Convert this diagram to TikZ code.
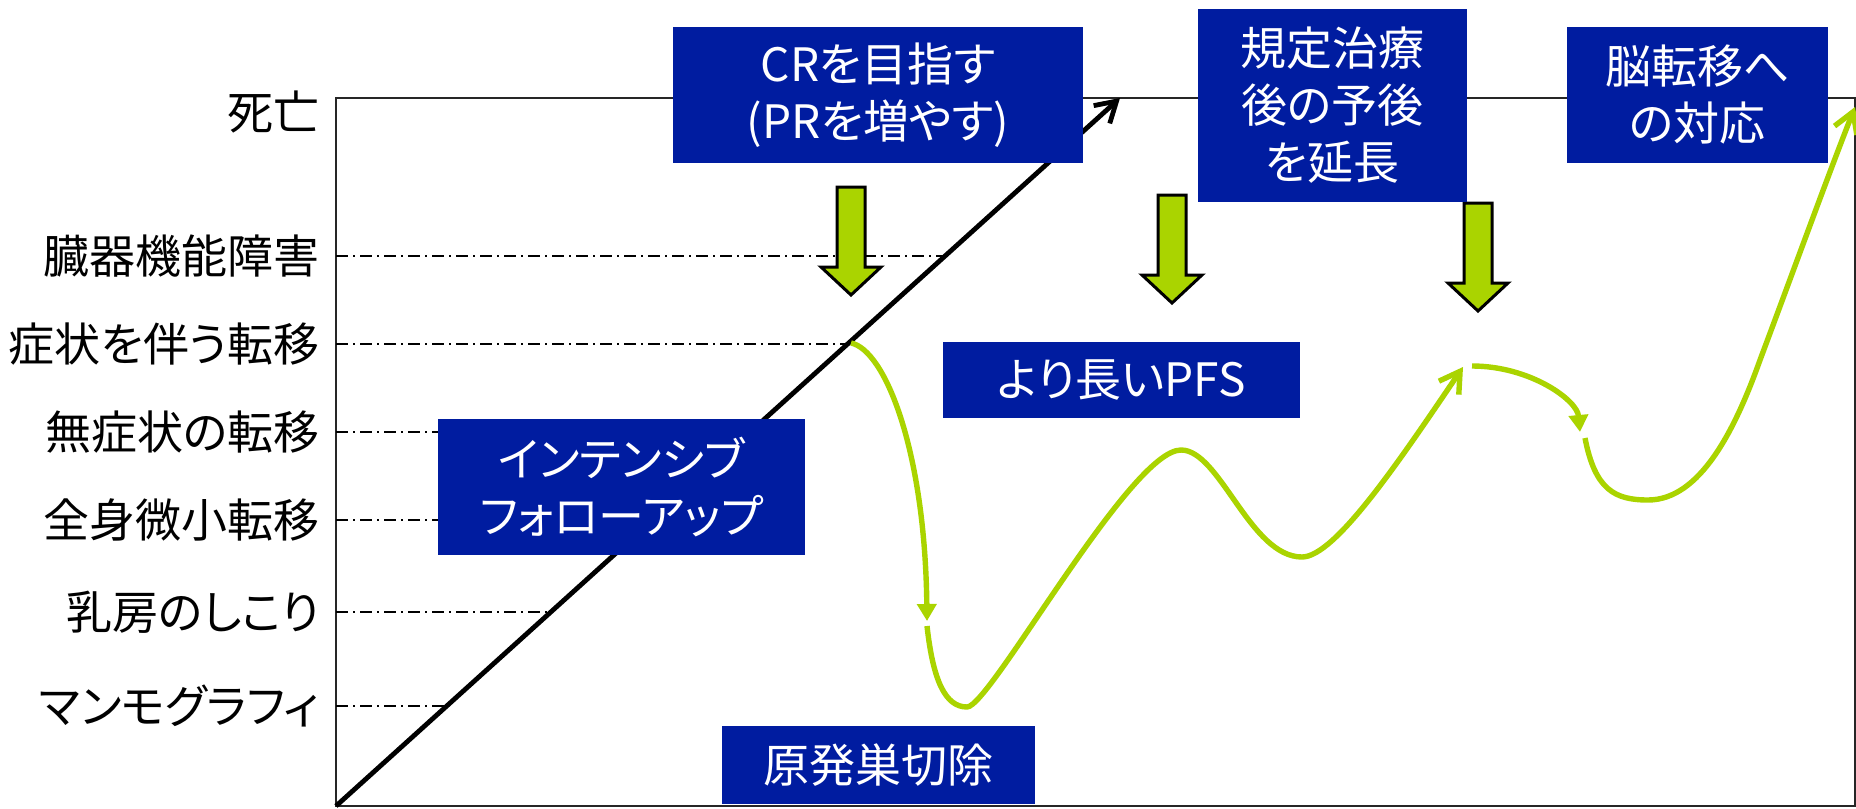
\documentclass[tikz,border=0pt]{standalone}
\usepackage{fontspec}
\setmainfont{Noto Sans CJK JP}[RawFeature={+palt}]
\usetikzlibrary{arrows.meta}
\definecolor{boxblue}{RGB}{0,28,160}
\definecolor{lime}{RGB}{170,212,0}
\tikzset{
  bluebox/.style={fill=boxblue, text=white, inner sep=0pt, align=center,
    font=\fontsize{23pt}{28.5pt}\selectfont},
  lab/.style={anchor=east, inner sep=0pt, font=\fontsize{23pt}{28pt}\selectfont},
  guide/.style={line width=0.6pt, dash pattern=on 6pt off 2.5pt on 1pt off 2.5pt},
  framebox/.style={line width=1pt, draw=black!85},
  diag/.style={line width=2.4pt, -{Straight Barb[length=10pt,width=12pt]}},
  gline/.style={line width=2.7pt, draw=lime},
  barb/.style={-{Straight Barb[length=10pt,width=12pt]}},
  tri/.style={-{Triangle[length=8.5pt,width=9.5pt]}},
  blockarrow/.pic={\filldraw[fill=lime, draw=black, line width=1.5pt, line join=miter]
    (-14,0) -- (14,0) -- (14,80) -- (30,80) -- (0,108) -- (-30,80) -- (-14,80) -- cycle;}
}
\begin{document}
\begin{tikzpicture}[x=0.5pt,y=-0.5pt]
\useasboundingbox (0,0) rectangle (1856,808);
% frame
\draw[framebox] (336,98) rectangle (1855,806);
% guide lines
\draw[guide] (336,256) -- (945,256);
\draw[guide] (336,344) -- (848,344);
\draw[guide] (336,432) -- (750,432);
\draw[guide] (336,520) -- (653,520);
\draw[guide] (336,612) -- (551,612);
\draw[guide] (336,706) -- (447,706);
% diagonal
\coordinate (o) at (336,806);
\coordinate (dtip) at (1120,98);
\draw[diag] (o) -- (dtip);
% green course
\coordinate (g0) at (851,343);
\coordinate (g1) at (927,621);
\coordinate (g2) at (927,626);
\coordinate (g3) at (1463,367);
\coordinate (g4) at (1472,366);
\coordinate (g5) at (1580,432);
\coordinate (g6) at (1585,438);
\coordinate (g7) at (1855,107);
\draw[gline, tri] (g0) .. controls (885,350) and (925,450) .. (g1);
\draw[gline, barb] (g2) .. controls (933,680) and (945,707) .. (967,707)
  .. controls (990,707) and (1130,450) .. (1181,450)
  .. controls (1220,450) and (1250,557) .. (1302,557)
  .. controls (1335,557) and (1400,460) .. (g3);
\draw[gline, tri] (g4) .. controls (1530,366) and (1577,400) .. (g5);
\draw[gline, barb] (g6) .. controls (1595,490) and (1615,500) .. (1648,500)
  .. controls (1700,500) and (1735,430) .. (1760,360)
  .. controls (1790,280) and (1830,170) .. (g7);
% block arrows
\pic at (851,187) {blockarrow};
\pic at (1172,195) {blockarrow};
\pic at (1478,203) {blockarrow};
% boxes
\node[bluebox, minimum width=205pt, minimum height=68pt] (cr) at (878,95) {CRを目指す\\(PRを増やす)};
\node[bluebox, minimum width=134.5pt, minimum height=96.5pt] (kitei) at (1332.5,105.5) {規定治療\\後の予後\\を延長};
\node[bluebox, minimum width=130.5pt, minimum height=68pt] (nou) at (1697.5,95) {脳転移へ\\の対応};
\node[bluebox, minimum width=178.5pt, minimum height=38pt] (pfs) at (1121.5,380) {より長いPFS};
\node[bluebox, minimum width=183.5pt, minimum height=68pt] (fu) at (621.5,487) {インテンシブ\\フォローアップ};
\node[bluebox, minimum width=156.5pt, minimum height=39pt] (gen) at (878.5,765) {原発巣切除};
% labels
\node[lab] (l0) at (320,112) {死亡};
\node[lab] (l1) at (320,256) {臓器機能障害};
\node[lab] (l2) at (320,344) {症状を伴う転移};
\node[lab] (l3) at (320,432) {無症状の転移};
\node[lab] (l4) at (320,520) {全身微小転移};
\node[lab] (l5) at (320,612) {乳房のしこり};
\node[lab] (l6) at (320,706) {マンモグラフィ};
\end{tikzpicture}
\end{document}
